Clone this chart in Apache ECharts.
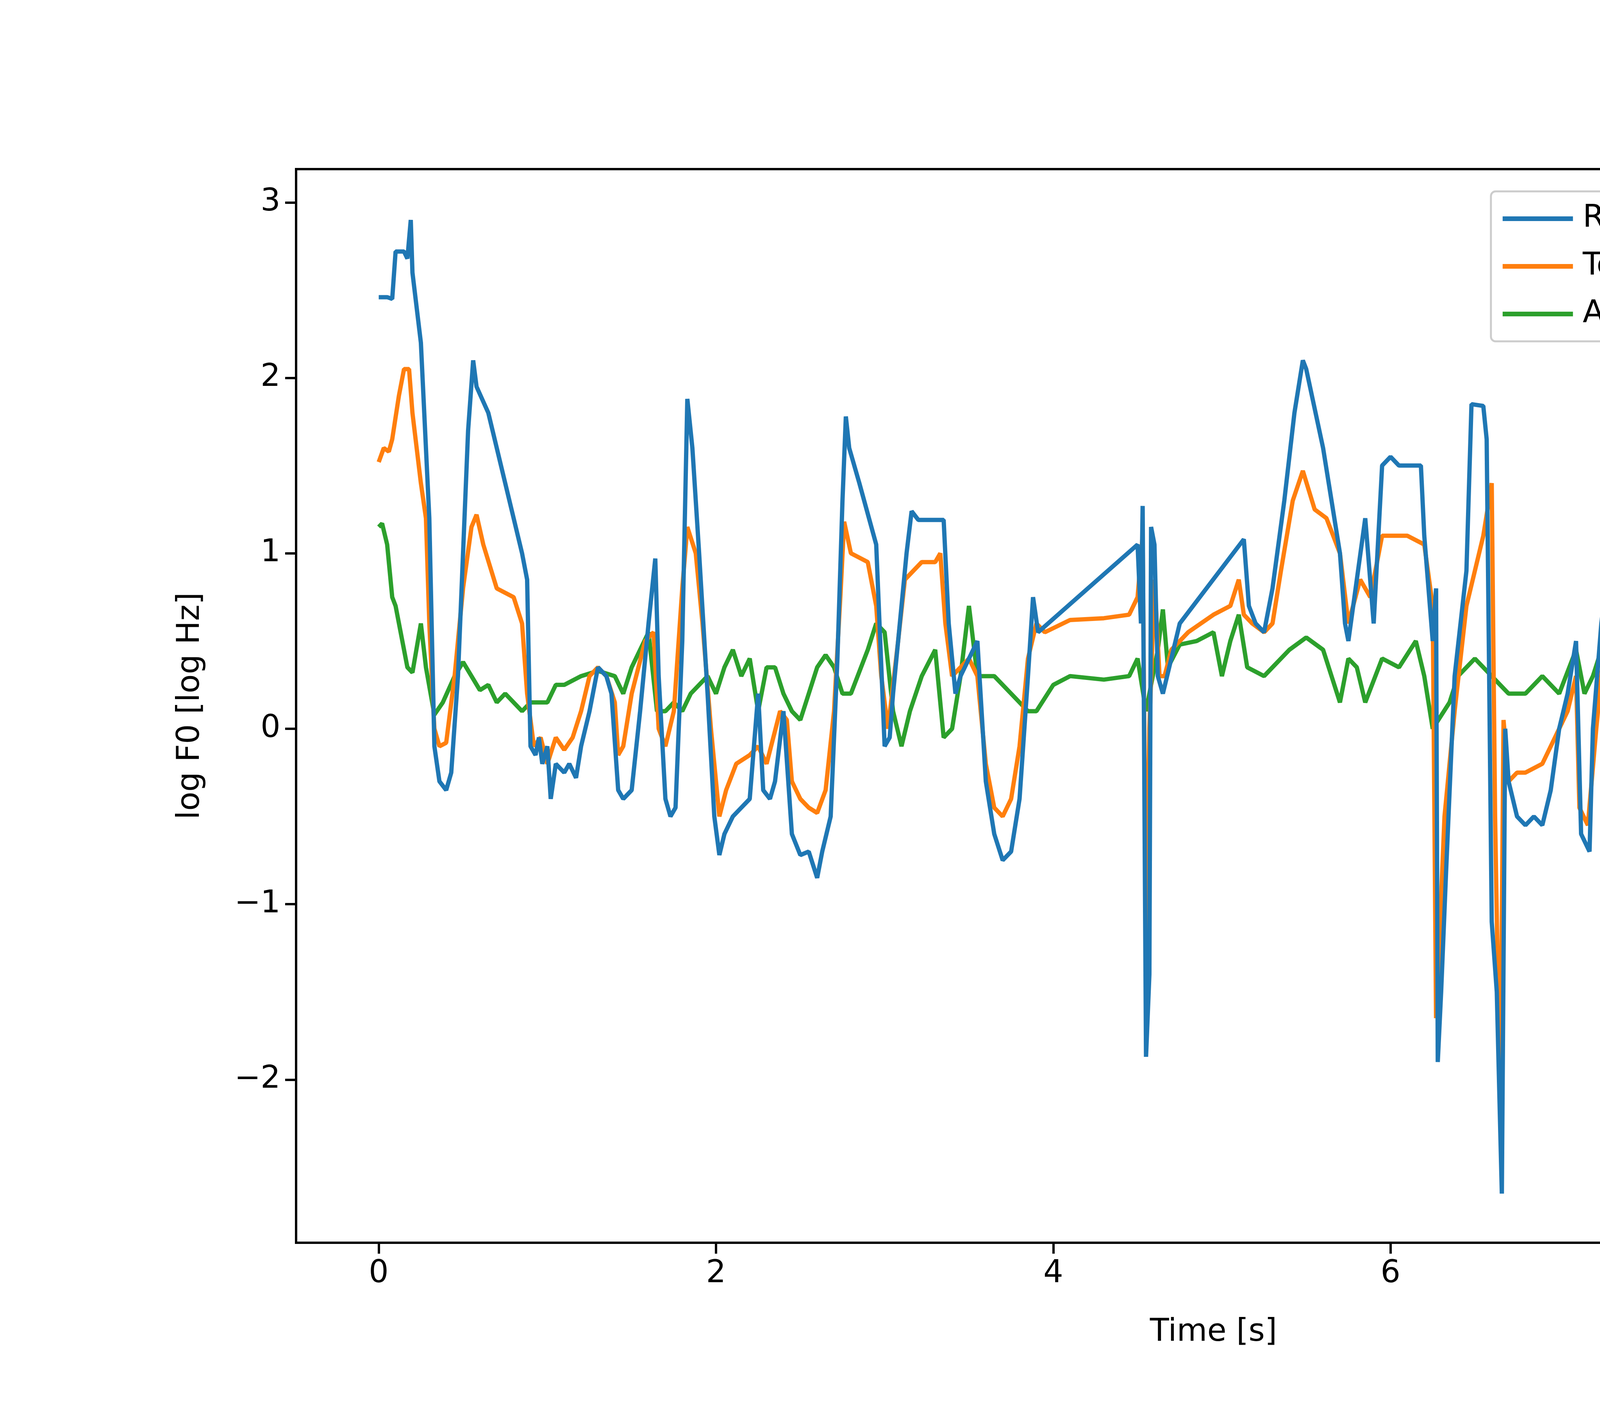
<!DOCTYPE html>
<html>
<head>
<meta charset="utf-8">
<title>log F0</title>
<script src="https://cdn.jsdelivr.net/npm/echarts@6/dist/echarts.min.js"></script>
<style>
  *{margin:0;padding:0;}
  body{background:#fff;}
  #main{width:6000px;height:3600px;}
</style>
</head>
<body>
<div id="main"></div>
<script>
// [time s, log F0]
var referencePml = [[0,2.46],[0.05,2.46],[0.08,2.45],[0.1,2.72],[0.15,2.72],[0.17,2.68],[0.19,2.9],[0.2,2.6],[0.25,2.2],[0.3,1.2],[0.33,-0.1],[0.36,-0.3],[0.4,-0.35],[0.43,-0.25],[0.47,0.3],[0.5,1.0],[0.53,1.7],[0.56,2.1],[0.58,1.95],[0.65,1.8],[0.75,1.4],[0.85,1.0],[0.88,0.85],[0.9,-0.1],[0.93,-0.15],[0.95,-0.05],[0.97,-0.2],[1.0,-0.1],[1.02,-0.4],[1.05,-0.2],[1.1,-0.25],[1.13,-0.2],[1.17,-0.28],[1.2,-0.1],[1.25,0.1],[1.3,0.35],[1.35,0.3],[1.38,0.2],[1.42,-0.35],[1.45,-0.4],[1.5,-0.35],[1.55,0.1],[1.6,0.6],[1.64,0.97],[1.66,0.3],[1.7,-0.4],[1.73,-0.5],[1.76,-0.45],[1.8,0.5],[1.83,1.88],[1.86,1.6],[1.9,1.0],[1.95,0.2],[1.99,-0.5],[2.02,-0.72],[2.05,-0.6],[2.1,-0.5],[2.15,-0.45],[2.2,-0.4],[2.25,0.2],[2.28,-0.35],[2.32,-0.4],[2.35,-0.3],[2.4,0.1],[2.45,-0.6],[2.5,-0.72],[2.55,-0.7],[2.6,-0.85],[2.63,-0.7],[2.68,-0.5],[2.72,0.4],[2.75,1.3],[2.77,1.78],[2.79,1.6],[2.85,1.4],[2.95,1.05],[3.0,-0.1],[3.03,-0.05],[3.05,0.2],[3.1,0.7],[3.13,1.0],[3.16,1.24],[3.2,1.19],[3.35,1.19],[3.38,0.6],[3.42,0.2],[3.45,0.3],[3.55,0.5],[3.6,-0.3],[3.65,-0.6],[3.7,-0.75],[3.75,-0.7],[3.8,-0.4],[3.85,0.3],[3.88,0.75],[3.91,0.55],[4.5,1.05],[4.52,0.6],[4.53,1.27],[4.55,-1.87],[4.57,-1.4],[4.58,1.15],[4.6,1.05],[4.62,0.3],[4.65,0.2],[4.7,0.4],[4.75,0.6],[5.13,1.08],[5.16,0.7],[5.2,0.6],[5.25,0.55],[5.3,0.8],[5.37,1.3],[5.43,1.8],[5.48,2.1],[5.5,2.05],[5.6,1.6],[5.7,1.0],[5.73,0.6],[5.75,0.5],[5.85,1.2],[5.9,0.6],[5.95,1.5],[6.0,1.55],[6.05,1.5],[6.18,1.5],[6.2,1.1],[6.25,0.5],[6.27,0.8],[6.28,-1.9],[6.3,-1.5],[6.33,-0.8],[6.38,0.3],[6.45,0.9],[6.48,1.85],[6.55,1.84],[6.57,1.65],[6.6,-1.1],[6.63,-1.5],[6.66,-2.65],[6.68,0.0],[6.7,-0.3],[6.75,-0.5],[6.8,-0.55],[6.85,-0.5],[6.9,-0.55],[6.95,-0.35],[7.0,0.0],[7.05,0.2],[7.1,0.5],[7.13,-0.6],[7.18,-0.7],[7.2,0.0],[7.25,0.6],[7.3,1.0],[7.33,1.25],[7.36,1.15],[7.4,1.3],[7.45,1.2],[7.5,1.2],[7.6,0.9],[7.7,0.6],[7.75,0.3],[7.8,-0.1],[7.85,0.4],[7.9,1.4],[8.0,1.65],[8.03,1.75],[8.05,1.1],[8.1,0.3],[8.13,0.6],[8.17,0.3],[8.2,0.1],[8.25,0.5],[8.3,-0.35],[8.35,0.1],[8.4,0.2],[8.45,0.4],[8.48,-0.1],[8.55,0.3],[8.6,0.6],[8.65,0.8],[8.68,0.5],[8.72,-0.1],[8.75,0.0],[8.8,-0.1],[8.9,0.2],[8.95,0.3],[9.0,0.4],[9.02,-0.6],[9.05,-0.5],[9.1,-1.1],[9.15,-1.25],[9.18,-1.42],[9.25,-0.8],[9.3,-0.5],[9.35,-0.2],[9.4,0.3],[9.45,1.0],[9.5,1.62],[9.52,1.62],[9.65,1.62]];

var teacherForcing = [[0,1.52],[0.03,1.6],[0.06,1.58],[0.08,1.65],[0.12,1.9],[0.15,2.05],[0.18,2.05],[0.2,1.8],[0.25,1.4],[0.28,1.2],[0.3,0.6],[0.33,0.0],[0.36,-0.1],[0.4,-0.08],[0.45,0.3],[0.5,0.8],[0.55,1.15],[0.58,1.22],[0.62,1.05],[0.7,0.8],[0.8,0.75],[0.85,0.6],[0.88,0.2],[0.92,-0.1],[0.96,-0.05],[1.0,-0.2],[1.05,-0.05],[1.1,-0.12],[1.15,-0.05],[1.2,0.1],[1.25,0.3],[1.3,0.35],[1.35,0.3],[1.4,0.15],[1.42,-0.15],[1.45,-0.1],[1.5,0.2],[1.58,0.5],[1.63,0.55],[1.66,0.0],[1.7,-0.1],[1.75,0.1],[1.8,0.8],[1.83,1.15],[1.88,1.0],[1.92,0.6],[1.97,0.0],[2.02,-0.5],[2.06,-0.35],[2.12,-0.2],[2.2,-0.15],[2.25,-0.1],[2.3,-0.2],[2.38,0.1],[2.42,0.05],[2.45,-0.3],[2.5,-0.4],[2.55,-0.45],[2.6,-0.48],[2.65,-0.35],[2.7,0.1],[2.74,0.8],[2.76,1.18],[2.8,1.0],[2.9,0.95],[2.95,0.7],[2.98,0.3],[3.02,0.0],[3.08,0.5],[3.12,0.85],[3.17,0.9],[3.22,0.95],[3.3,0.95],[3.33,1.0],[3.36,0.6],[3.4,0.3],[3.45,0.35],[3.5,0.4],[3.55,0.3],[3.6,-0.2],[3.65,-0.45],[3.7,-0.5],[3.75,-0.4],[3.8,-0.1],[3.85,0.4],[3.9,0.6],[3.95,0.55],[4.1,0.62],[4.3,0.63],[4.45,0.65],[4.5,0.75],[4.53,1.1],[4.55,-1.2],[4.57,0.0],[4.6,0.85],[4.63,0.3],[4.66,0.3],[4.7,0.45],[4.8,0.55],[4.95,0.65],[5.05,0.7],[5.1,0.85],[5.13,0.65],[5.18,0.6],[5.25,0.55],[5.3,0.6],[5.35,0.9],[5.42,1.3],[5.48,1.47],[5.55,1.25],[5.62,1.2],[5.7,1.0],[5.75,0.6],[5.82,0.85],[5.88,0.75],[5.95,1.1],[6.0,1.1],[6.1,1.1],[6.2,1.05],[6.25,0.7],[6.27,-1.65],[6.32,-0.5],[6.38,0.1],[6.45,0.7],[6.55,1.1],[6.6,1.4],[6.62,-0.5],[6.65,-2.2],[6.67,0.05],[6.7,-0.3],[6.75,-0.25],[6.8,-0.25],[6.9,-0.2],[6.95,-0.1],[7.05,0.1],[7.1,0.3],[7.12,-0.45],[7.17,-0.55],[7.22,0.0],[7.28,0.6],[7.33,0.9],[7.38,0.8],[7.43,0.95],[7.5,0.85],[7.6,0.8],[7.7,0.4],[7.78,0.2],[7.82,0.0],[7.88,0.4],[7.92,0.8],[8.0,0.95],[8.03,1.22],[8.06,0.7],[8.1,0.3],[8.15,0.4],[8.2,0.3],[8.25,0.4],[8.3,-0.2],[8.35,0.1],[8.4,0.3],[8.45,0.2],[8.5,0.15],[8.6,0.5],[8.65,0.6],[8.7,0.1],[8.8,0.0],[8.9,0.2],[9.0,0.55],[9.03,-0.3],[9.1,-0.4],[9.14,-0.75],[9.18,-0.8],[9.22,-0.3],[9.28,0.0],[9.35,0.2],[9.42,0.8],[9.47,1.1],[9.52,0.95],[9.6,0.9],[9.65,0.8],[9.67,0.0],[9.9,0.0]];

var attentionForcing = [[0,1.15],[0.02,1.17],[0.05,1.05],[0.08,0.75],[0.1,0.7],[0.13,0.55],[0.17,0.35],[0.2,0.32],[0.25,0.6],[0.28,0.35],[0.33,0.08],[0.38,0.15],[0.45,0.3],[0.5,0.38],[0.55,0.3],[0.6,0.22],[0.65,0.25],[0.7,0.15],[0.75,0.2],[0.8,0.15],[0.85,0.1],[0.9,0.15],[1.0,0.15],[1.05,0.25],[1.1,0.25],[1.2,0.3],[1.3,0.33],[1.4,0.3],[1.45,0.2],[1.5,0.35],[1.6,0.55],[1.65,0.1],[1.7,0.1],[1.75,0.15],[1.8,0.1],[1.85,0.2],[1.95,0.3],[2.0,0.2],[2.05,0.35],[2.1,0.45],[2.15,0.3],[2.2,0.4],[2.25,0.1],[2.3,0.35],[2.35,0.35],[2.4,0.2],[2.45,0.1],[2.5,0.05],[2.55,0.2],[2.6,0.35],[2.65,0.42],[2.7,0.35],[2.75,0.2],[2.8,0.2],[2.9,0.45],[2.95,0.6],[3.0,0.55],[3.05,0.1],[3.1,-0.1],[3.15,0.1],[3.22,0.3],[3.3,0.45],[3.35,-0.05],[3.4,0.0],[3.45,0.3],[3.5,0.7],[3.55,0.3],[3.65,0.3],[3.75,0.2],[3.85,0.1],[3.9,0.1],[4.0,0.25],[4.1,0.3],[4.3,0.28],[4.45,0.3],[4.5,0.4],[4.55,0.1],[4.62,0.45],[4.65,0.68],[4.68,0.35],[4.75,0.48],[4.85,0.5],[4.95,0.55],[5.0,0.3],[5.05,0.5],[5.1,0.65],[5.15,0.35],[5.25,0.3],[5.3,0.35],[5.4,0.45],[5.5,0.52],[5.6,0.45],[5.65,0.3],[5.7,0.15],[5.75,0.4],[5.8,0.35],[5.85,0.15],[5.95,0.4],[6.05,0.35],[6.15,0.5],[6.2,0.3],[6.25,0.0],[6.35,0.15],[6.4,0.3],[6.5,0.4],[6.6,0.3],[6.65,0.25],[6.7,0.2],[6.8,0.2],[6.9,0.3],[7.0,0.2],[7.1,0.45],[7.15,0.2],[7.2,0.3],[7.3,0.6],[7.35,0.1],[7.4,0.05],[7.5,0.1],[7.6,0.25],[7.7,0.35],[7.8,0.35],[7.85,0.15],[7.9,0.25],[7.95,0.1],[8.0,0.25],[8.1,0.25],[8.2,0.2],[8.3,0.25],[8.4,0.4],[8.45,0.2],[8.5,0.3],[8.6,0.15],[8.7,0.35],[8.75,0.15],[8.8,0.3],[8.9,0.3],[9.0,0.25],[9.1,0.3],[9.15,0.2],[9.25,0.45],[9.3,0.15],[9.35,0.05],[9.4,0.15],[9.5,0.25],[9.58,0.25],[9.62,0.2],[9.7,-0.1],[9.8,-0.2],[9.9,0.0]];

var xTicks = [0, 2, 4, 6, 8, 10];
var yTicks = [-2, -1, 0, 1, 2, 3];
var seriesNames = ['Reference PML Vocoder Features', 'Teacher Forcing Synthesis', 'Attention Forcing Synthesis'];
var seriesColors = ['#1f77b4', '#ff7f0e', '#2ca02c'];
var seriesData = [referencePml, teacherForcing, attentionForcing];

var font = 'DejaVu Sans';
var fs = 80;
function minus(v){ return String(v).replace('-', '\u2212'); }

var chart = echarts.init(document.getElementById('main'));
var option = {
  backgroundColor: '#fff',
  animation: false,
  textStyle: {fontFamily: font},
  grid: {left: 758, right: 545, top: 433, bottom: 418, show: true,
         borderColor: '#000', borderWidth: 6, backgroundColor: 'transparent'},
  legend: {
    orient: 'vertical', right: 600, top: 490, itemGap: 42,
    itemWidth: 180, itemHeight: 12,
    padding: [30, 40, 30, 30],
    borderColor: '#ccc', borderWidth: 5, borderRadius: 12,
    backgroundColor: 'rgba(255,255,255,0.8)',
    textStyle: {fontFamily: font, fontSize: fs, color: '#000', padding: [0, 0, 0, 20]},
    data: seriesNames.map(function(n){ return {name: n, icon: 'rect'}; })
  },
  xAxis: {
    type: 'value', min: -0.49, max: 10.39,
    name: 'Time [s]', nameLocation: 'middle', nameGap: 190,
    nameTextStyle: {fontFamily: font, fontSize: fs, color: '#000'},
    axisLine: {show: true, onZero: false, lineStyle: {color: '#000', width: 6}},
    splitLine: {show: false},
    axisTick: {show: true, inside: false, length: 28, customValues: xTicks, lineStyle: {color: '#000', width: 6}},
    axisLabel: {customValues: xTicks, fontFamily: font, fontSize: fs, color: '#000', margin: 40, formatter: minus}
  },
  yAxis: {
    type: 'value', min: -2.93, max: 3.19,
    name: 'log F0 [log Hz]', nameLocation: 'middle', nameGap: 230, nameRotate: 90,
    nameTextStyle: {fontFamily: font, fontSize: fs, color: '#000'},
    axisLine: {show: true, onZero: false, lineStyle: {color: '#000', width: 6}},
    splitLine: {show: false},
    axisTick: {show: true, inside: false, length: 28, customValues: yTicks, lineStyle: {color: '#000', width: 6}},
    axisLabel: {customValues: yTicks, fontFamily: font, fontSize: fs, color: '#000', margin: 40, formatter: minus}
  },
  series: seriesData.map(function(d, i){
    return {
      name: seriesNames[i], type: 'line', data: d, showSymbol: false, symbol: 'none',
      color: seriesColors[i],
      lineStyle: {color: seriesColors[i], width: 11},
      z: 10 - i
    };
  })
};
chart.setOption(option);
</script>
</body>
</html>
